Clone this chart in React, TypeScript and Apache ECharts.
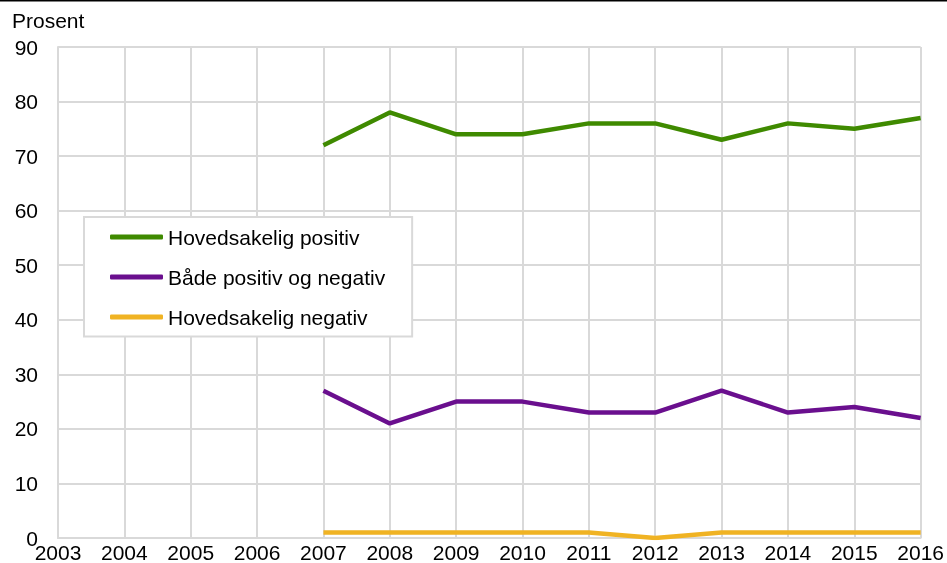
import React, { useEffect, useRef } from "react";
import * as echarts from "echarts";

const years = ["2003","2004","2005","2006","2007","2008","2009","2010","2011","2012","2013","2014","2015","2016"];
const positiv = [null, null, null, null, 72, 78, 74, 74, 76, 76, 73, 76, 75, 77];
const begge = [null, null, null, null, 27, 21, 25, 25, 23, 23, 27, 23, 24, 22];
const negativ = [null, null, null, null, 1, 1, 1, 1, 1, 0, 1, 1, 1, 1];
const seriesNames = ["Hovedsakelig positiv", "Både positiv og negativ", "Hovedsakelig negativ"];
const colors = ["#3f8a00", "#6a0f8e", "#f0b323"];

export default function App() {
  const ref = useRef<HTMLDivElement>(null);
  useEffect(() => {
    const chart = echarts.init(ref.current!, null, { renderer: "svg" });
    const font = "'Liberation Sans', Arial, sans-serif";
    const mk = (name: string, data: (number | null)[], color: string) => ({
      name,
      type: "line",
      data,
      symbol: "none",
      lineStyle: { color, width: 4.5 },
      itemStyle: { color },
      connectNulls: false,
      z: 3,
    });
    chart.setOption({
      animation: false,
      textStyle: { fontFamily: font },
      grid: { left: 58, right: 25, top: 47, bottom: 25, containLabel: false },
      graphic: [
        { type: "line", shape: { x1: 0, y1: 0.5, x2: 947, y2: 0.5 }, style: { stroke: "#000", lineWidth: 2 } },
        { type: "text", left: 12, top: 10, style: { text: "Prosent", font: "21px " + font, fill: "#000" } },
      ],
      legend: {
        orient: "vertical",
        left: 84,
        top: 217,
        padding: [9.5, 27, 9, 26],
        itemWidth: 53,
        itemHeight: 5,
        itemGap: 19,
        borderColor: "#d9d9d9",
        borderWidth: 2,
        backgroundColor: "#fff",
        textStyle: { fontFamily: font, fontSize: 21, lineHeight: 21, color: "#000" },
        data: seriesNames.map((n, i) => ({
          name: n,
          icon: "roundRect",
          itemStyle: { color: colors[i] },
        })),
        selectedMode: false,
      },
      xAxis: {
        type: "category",
        data: years,
        boundaryGap: false,
        axisLine: { show: true, lineStyle: { color: "#d9d9d9", width: 2 } },
        axisTick: { show: false },
        axisLabel: { color: "#000", fontSize: 21, fontFamily: font, margin: 4, interval: 0 },
        splitLine: { show: true, lineStyle: { color: "#d9d9d9", width: 2 } },
      },
      yAxis: {
        type: "value",
        min: 0,
        max: 90,
        interval: 10,
        axisLine: { show: true, lineStyle: { color: "#d9d9d9", width: 2 } },
        axisTick: { show: false },
        axisLabel: { color: "#000", fontSize: 21, fontFamily: font, margin: 20 },
        splitLine: { show: true, lineStyle: { color: "#d9d9d9", width: 2 } },
      },
      series: [
        mk(seriesNames[0], positiv, colors[0]),
        mk(seriesNames[1], begge, colors[1]),
        mk(seriesNames[2], negativ, colors[2]),
      ],
    });
    return () => chart.dispose();
  }, []);
  return <div ref={ref} style={{ position: "fixed", left: 0, top: 0, width: 947, height: 563 }} />;
}
